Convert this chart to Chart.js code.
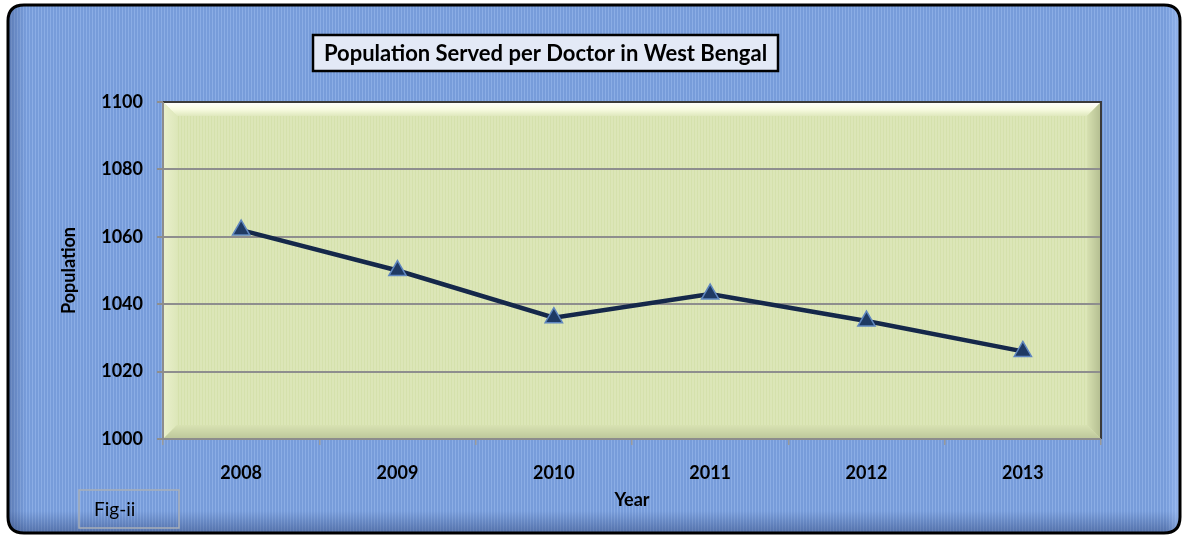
<!DOCTYPE html>
<html>
<head>
<meta charset="utf-8">
<script src="https://cdn.jsdelivr.net/npm/chart.js@4"></script>
<style>
html,body{margin:0;padding:0;background:#ffffff;}
#wrap{position:relative;width:1184px;height:535px;}
canvas{display:block;}
</style>
</head>
<body>
<div id="wrap"><canvas id="c" width="1184" height="535"></canvas></div>
<script>
const categories = ['2008','2009','2010','2011','2012','2013'];
const populationPerDoctor = [1062, 1050, 1036, 1043, 1035, 1026];
const yTicks = [1000, 1020, 1040, 1060, 1080, 1100];
const chartTitle = 'Population Served per Doctor in West Bengal';
const xTitle = 'Year';
const yTitle = 'Population';
const figLabel = 'Fig-ii';

const FONT = 'Lato, Calibri, "Open Sans", sans-serif';

function roundRect(ctx, x, y, w, h, r) {
  ctx.beginPath();
  ctx.moveTo(x + r, y);
  ctx.lineTo(x + w - r, y);
  ctx.quadraticCurveTo(x + w, y, x + w, y + r);
  ctx.lineTo(x + w, y + h - r);
  ctx.quadraticCurveTo(x + w, y + h, x + w - r, y + h);
  ctx.lineTo(x + r, y + h);
  ctx.quadraticCurveTo(x, y + h, x, y + h - r);
  ctx.lineTo(x, y + r);
  ctx.quadraticCurveTo(x, y, x + r, y);
  ctx.closePath();
}

const decor = {
  id: 'decor',
  beforeDraw(chart) {
    const ctx = chart.ctx;
    ctx.save();
    // outer frame
    const fx = 8, fy = 5, fw = 1172, fh = 528, fr = 16;
    roundRect(ctx, fx, fy, fw, fh, fr);
    ctx.fillStyle = '#779cda';
    ctx.fill();
    ctx.save();
    roundRect(ctx, fx, fy, fw, fh, fr);
    ctx.clip();
    ctx.fillStyle = 'rgba(165,195,242,0.45)';
    for (let x = fx; x < fx + fw; x += 3) ctx.fillRect(x, fy, 1, fh);
    let g = ctx.createLinearGradient(0, fy + fh - 22, 0, fy + fh);
    g.addColorStop(0, 'rgba(40,60,110,0)');
    g.addColorStop(1, 'rgba(40,60,110,0.45)');
    ctx.fillStyle = g;
    ctx.fillRect(fx, fy + fh - 22, fw, 22);
    g = ctx.createLinearGradient(fx, 0, fx + 18, 0);
    g.addColorStop(0, 'rgba(40,60,110,0.35)');
    g.addColorStop(1, 'rgba(40,60,110,0)');
    ctx.fillStyle = g;
    ctx.fillRect(fx, fy, 18, fh);
    g = ctx.createLinearGradient(fx + fw - 14, 0, fx + fw, 0);
    g.addColorStop(0, 'rgba(170,200,250,0)');
    g.addColorStop(1, 'rgba(170,200,250,0.6)');
    ctx.fillStyle = g;
    ctx.fillRect(fx + fw - 14, fy, 14, fh);
    ctx.restore();
    roundRect(ctx, fx, fy, fw, fh, fr);
    ctx.lineWidth = 3;
    ctx.strokeStyle = '#000000';
    ctx.stroke();

    // plot area with bevel
    const a = chart.chartArea;
    const L = a.left, T = a.top, R = a.right, B = a.bottom;
    ctx.fillStyle = '#dce6b8';
    ctx.fillRect(L, T, R - L, B - T);
    ctx.fillStyle = 'rgba(200,215,150,0.35)';
    for (let x = L; x < R; x += 3) ctx.fillRect(x, T, 1, B - T);
    const bw = 14;
    ctx.beginPath();
    ctx.moveTo(L, T); ctx.lineTo(R, T); ctx.lineTo(R - bw, T + bw); ctx.lineTo(L + bw, T + bw); ctx.closePath();
    g = ctx.createLinearGradient(0, T, 0, T + bw);
    g.addColorStop(0, '#ffffff');
    g.addColorStop(0.55, '#f6fadf');
    g.addColorStop(1, '#dfe8bd');
    ctx.fillStyle = g; ctx.fill();
    ctx.beginPath();
    ctx.moveTo(L, T); ctx.lineTo(L + bw, T + bw); ctx.lineTo(L + bw, B - bw); ctx.lineTo(L, B); ctx.closePath();
    g = ctx.createLinearGradient(L, 0, L + bw, 0);
    g.addColorStop(0, '#eaf0cc');
    g.addColorStop(1, '#dde7ba');
    ctx.fillStyle = g; ctx.fill();
    ctx.beginPath();
    ctx.moveTo(R, T); ctx.lineTo(R, B); ctx.lineTo(R - bw, B - bw); ctx.lineTo(R - bw, T + bw); ctx.closePath();
    g = ctx.createLinearGradient(R - bw, 0, R, 0);
    g.addColorStop(0, '#d6e0b0');
    g.addColorStop(1, '#b3bd90');
    ctx.fillStyle = g; ctx.fill();
    ctx.beginPath();
    ctx.moveTo(L, B); ctx.lineTo(R, B); ctx.lineTo(R - bw, B - bw); ctx.lineTo(L + bw, B - bw); ctx.closePath();
    g = ctx.createLinearGradient(0, B - bw, 0, B);
    g.addColorStop(0, '#d8e2b2');
    g.addColorStop(1, '#bcc69a');
    ctx.fillStyle = g; ctx.fill();
    ctx.restore();
  },
  afterDraw(chart) {
    const ctx = chart.ctx;
    const a = chart.chartArea;
    ctx.save();
    ctx.lineWidth = 2;
    ctx.strokeStyle = '#3a3a3a';
    ctx.beginPath();
    ctx.moveTo(a.left, a.top); ctx.lineTo(a.right, a.top); ctx.lineTo(a.right, a.bottom);
    ctx.stroke();
    ctx.strokeStyle = '#8c8c8c';
    ctx.beginPath();
    ctx.moveTo(a.left, a.top); ctx.lineTo(a.left, a.bottom); ctx.lineTo(a.right, a.bottom);
    ctx.stroke();

    // title box
    const tx = 313, ty = 35, tw = 465, th = 36;
    ctx.fillStyle = '#e3e9f6';
    ctx.fillRect(tx, ty, tw, th);
    ctx.lineWidth = 2.5;
    ctx.strokeStyle = '#000000';
    ctx.strokeRect(tx, ty, tw, th);
    ctx.fillStyle = '#000000';
    ctx.font = 'bold 22px ' + FONT;
    ctx.textAlign = 'center';
    ctx.textBaseline = 'middle';
    ctx.fillText(chartTitle, tx + tw / 2, ty + th / 2 + 1);

    // Fig-ii box
    const bx = 79, by = 490, bw = 100, bh = 38;
    ctx.lineWidth = 1.5;
    ctx.strokeStyle = '#a8aeb8';
    ctx.strokeRect(bx, by, bw, bh);
    ctx.fillStyle = '#000000';
    ctx.font = '19px ' + FONT;
    ctx.textAlign = 'left';
    ctx.fillText(figLabel, bx + 15, by + bh / 2 + 1);
    ctx.restore();
  }
};

new Chart(document.getElementById('c'), {
  type: 'line',
  data: {
    labels: categories,
    datasets: [{
      data: populationPerDoctor,
      borderColor: '#15284a',
      borderWidth: 4.5,
      tension: 0,
      pointStyle: 'triangle',
      pointRadius: 10,
      pointBackgroundColor: '#1f3a64',
      pointBorderColor: '#5f86bf',
      pointBorderWidth: 1.5,
      fill: false
    }]
  },
  options: {
    responsive: false,
    animation: false,
    devicePixelRatio: 1,
    layout: { padding: { left: 56, right: 83, top: 102, bottom: 24 } },
    plugins: {
      legend: { display: false },
      title: { display: false },
      tooltip: { enabled: false }
    },
    scales: {
      x: {
        type: 'category',
        offset: true,
        grid: {
          display: true,
          offset: true,
          drawOnChartArea: false,
          drawTicks: true,
          tickLength: 6,
          color: '#9a9a9a',
          lineWidth: 1.5
        },
        border: { display: false },
        ticks: {
          color: '#000000',
          font: { family: FONT, size: 18, weight: 'bold' },
          padding: 17
        },
        title: {
          display: true,
          text: xTitle,
          color: '#000000',
          font: { family: FONT, size: 18, weight: 'bold' },
          padding: { top: 0, bottom: 0 }
        },
        afterFit(scale) { scale.height = 72; }
      },
      y: {
        min: 1000,
        max: 1100,
        afterBuildTicks(scale) { scale.ticks = yTicks.map(v => ({ value: v })); },
        grid: {
          color: '#8e8e8e',
          lineWidth: 2,
          drawTicks: true,
          tickLength: 6
        },
        border: { display: false },
        ticks: {
          color: '#000000',
          font: { family: FONT, size: 18, weight: 'bold' },
          padding: 14,
          callback: (v) => String(v)
        },
        title: {
          display: true,
          text: yTitle,
          color: '#000000',
          font: { family: FONT, size: 18, weight: 'bold' },
          padding: { top: 2, bottom: 0 }
        },
        afterFit(scale) { scale.width = 107; }
      }
    }
  },
  plugins: [decor]
});
</script>
</body>
</html>
